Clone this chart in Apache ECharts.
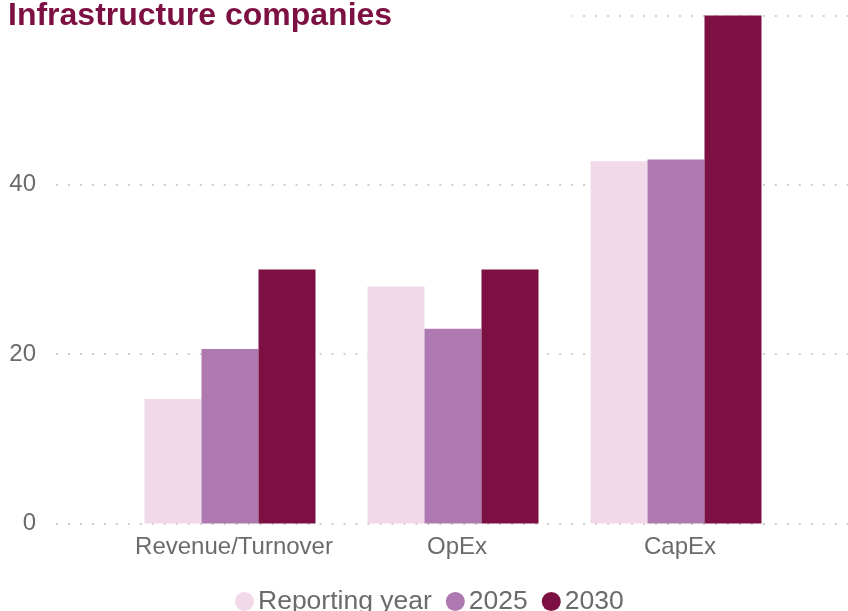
<!DOCTYPE html>
<html>
<head>
<meta charset="utf-8">
<script src="https://cdn.jsdelivr.net/npm/echarts@6/dist/echarts.min.js"></script>
<style>html,body{margin:0;padding:0;background:#fff;}#c{width:848px;height:611px;}</style>
</head>
<body>
<div id="c"></div>
<script>
const categories = ['Revenue/Turnover', 'OpEx', 'CapEx'];
const seriesNames = ['Reporting year', '2025', '2030'];
const reportingYear = [14.7, 28, 42.8];
const y2025 = [20.6, 23, 43];
const y2030 = [30, 30, 60];
const yTicks = [0, 20, 40, 60];
const colors = ['#f2d9ea', '#ae78b1', '#7d1042'];

const chart = echarts.init(document.getElementById('c'));
const font = 'Liberation Sans, Arial, sans-serif';
const values = [reportingYear, y2025, y2030];
chart.setOption({
  animation: false,
  textStyle: { fontFamily: font },
  title: {
    text: 'Infrastructure companies',
    left: 0, top: 0,
    padding: [0, 180, 6, 8],
    backgroundColor: '#ffffff',
    textStyle: { color: '#7d1042', fontSize: 32, fontWeight: 'bold', fontFamily: font }
  },
  legend: {
    data: seriesNames,
    bottom: -9,
    left: 230,
    icon: 'circle',
    itemWidth: 19, itemHeight: 19,
    itemGap: 14,
    textStyle: { color: '#6b6b6b', fontSize: 26.5, fontFamily: font, padding: [0, 0, 0, -1] }
  },
  grid: [
    { left: 56, right: 0, top: 15.5, bottom: 87.5 },
    { left: 118.5, right: 60.5, top: 15.5, bottom: 87.5 }
  ],
  xAxis: [
    { gridIndex: 0, type: 'category', data: categories, show: false },
    { gridIndex: 1, type: 'category', data: categories,
      axisLine: { show: false }, axisTick: { show: false },
      axisLabel: { color: '#6b6b6b', fontSize: 24, margin: 12, interval: 0, fontFamily: font,
        padding: [0, 0, 0, 8] } }
  ],
  yAxis: [
    { gridIndex: 0, type: 'value', min: 0, max: 60, interval: 20,
      axisLine: { show: false }, axisTick: { show: false },
      axisLabel: { color: '#6b6b6b', fontSize: 24, margin: 20, fontFamily: font,
        formatter: v => yTicks.includes(v) ? String(v) : '' },
      splitLine: { lineStyle: { color: '#cfcfcf', width: 2, type: [2, 9.98] } } },
    { gridIndex: 1, type: 'value', min: 0, max: 60, interval: 20, show: false,
      splitLine: { show: false } }
  ],
  series: seriesNames.map((n, i) => ({
    name: n, type: 'bar', xAxisIndex: 1, yAxisIndex: 1,
    data: values[i], barWidth: 57, barGap: '0%',
    itemStyle: { color: colors[i] }, z: 3
  }))
});
</script>
</body>
</html>
